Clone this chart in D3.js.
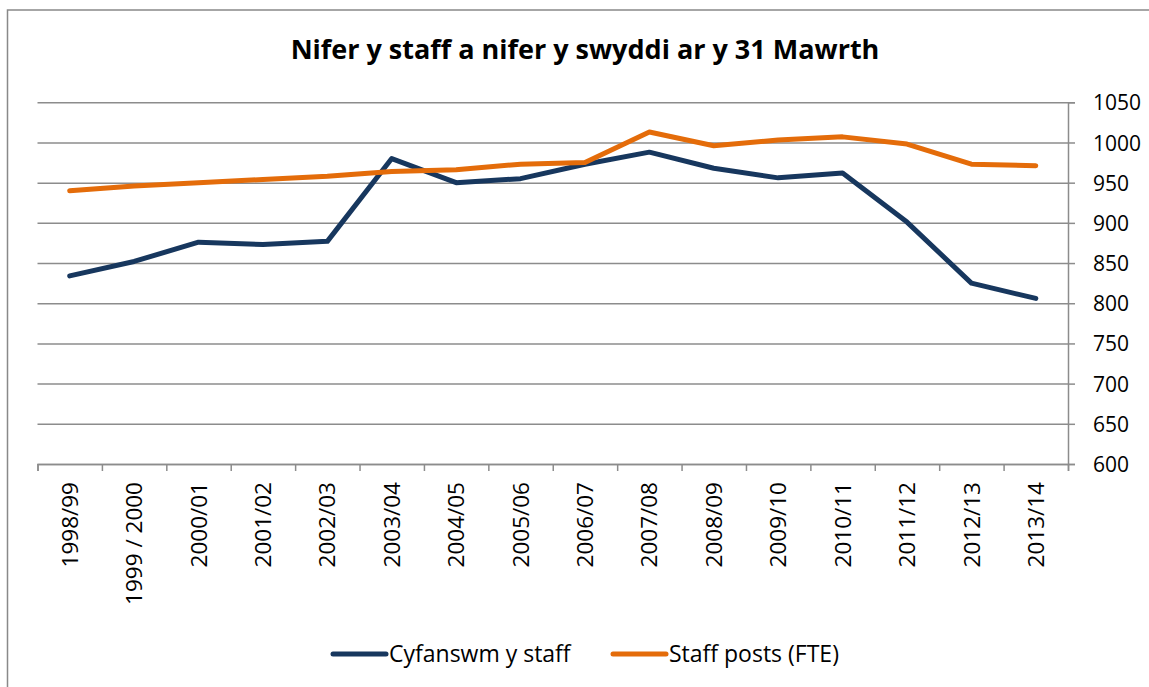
<!DOCTYPE html>
<html>
<head>
<meta charset="utf-8">
<script src="https://cdn.jsdelivr.net/npm/d3@7"></script>
<style>
  body { margin: 0; background: #fff; }
  svg text { font-family: "Open Sans", "Liberation Sans", sans-serif; fill: #000; }
</style>
</head>
<body>
<div id="chart"></div>
<script>
// data
var years = ["1998/99", "1999 / 2000", "2000/01", "2001/02", "2002/03", "2003/04", "2004/05", "2005/06",
             "2006/07", "2007/08", "2008/09", "2009/10", "2010/11", "2011/12", "2012/13", "2013/14"];
var totalStaff = [834, 852, 876, 873, 877, 980, 950, 955, 973, 988, 968, 956, 962, 901, 825, 806];
var staffPosts = [940, 946, 950, 954, 958, 964, 966, 973, 975, 1013, 996, 1003, 1007, 998, 973, 971];
var yTicks = [600, 650, 700, 750, 800, 850, 900, 950, 1000, 1050];
var seriesNames = ["Cyfanswm y staff", "Staff posts (FTE)"];
var seriesColors = ["#17375e", "#e46c0a"];

var width = 1149, height = 687;
var plot = { left: 37.5, right: 1068, top: 102.3, bottom: 464 };

var svg = d3.select("#chart").append("svg")
    .attr("width", width)
    .attr("height", height);

// outer chart border
svg.append("rect")
    .attr("x", 7.5).attr("y", 10)
    .attr("width", 1160).attr("height", 700)
    .attr("fill", "none")
    .attr("stroke", "#898989")
    .attr("stroke-width", 1.5);

svg.append("text")
    .attr("x", 585).attr("y", 59)
    .attr("text-anchor", "middle")
    .style("font-size", "27px")
    .style("font-weight", "bold")
    .text("Nifer y staff a nifer y swyddi ar y 31 Mawrth");

var x = d3.scaleBand().domain(years).range([plot.left, plot.right]);
var xEdge = d3.scaleLinear().domain([0, years.length]).range([plot.left, plot.right]);
var y = d3.scaleLinear().domain([600, 1050]).range([plot.bottom, plot.top]);

// gridlines
svg.append("g")
    .attr("transform", "translate(" + plot.right + ",0)")
    .call(d3.axisLeft(y).tickValues(yTicks).tickSize(plot.right - plot.left).tickFormat(""))
    .call(function(g) { g.select(".domain").remove(); })
    .selectAll("line")
    .attr("stroke", "#8c8c8c")
    .attr("stroke-width", 1.5);

// right value axis
var yAxis = svg.append("g")
    .attr("transform", "translate(" + plot.right + ",0)")
    .call(d3.axisRight(y).tickValues(yTicks).tickSize(7).tickPadding(18).tickFormat(d3.format("d")));
yAxis.select(".domain").attr("stroke", "#8c8c8c").attr("stroke-width", 1.5);
yAxis.selectAll("line").attr("stroke", "#8c8c8c").attr("stroke-width", 1.5);
yAxis.selectAll("text").style("font-size", "21px").attr("dy", "0.36em");

// bottom category axis (ticks between categories)
var xAxis = svg.append("g")
    .attr("transform", "translate(0," + plot.bottom + ")")
    .call(d3.axisBottom(xEdge).tickValues(d3.range(years.length + 1)).tickSize(7).tickFormat(""));
xAxis.select(".domain").attr("stroke", "#8c8c8c").attr("stroke-width", 1.5);
xAxis.selectAll("line").attr("stroke", "#8c8c8c").attr("stroke-width", 1.5);

svg.append("g").selectAll("text")
    .data(years)
    .enter().append("text")
    .attr("transform", function(d) {
      return "translate(" + (x(d) + x.bandwidth() / 2) + "," + (plot.bottom + 18) + ") rotate(-90)";
    })
    .attr("text-anchor", "end")
    .attr("dy", "0.36em")
    .style("font-size", "22.5px")
    .text(function(d) { return d; });

// lines
var line = d3.line()
    .x(function(d, i) { return x(years[i]) + x.bandwidth() / 2; })
    .y(function(d) { return y(d); });

[totalStaff, staffPosts].forEach(function(s, i) {
  svg.append("path")
      .datum(s)
      .attr("fill", "none")
      .attr("stroke", seriesColors[i])
      .attr("stroke-width", 5)
      .attr("stroke-linejoin", "round")
      .attr("stroke-linecap", "round")
      .attr("d", line);
});

// legend
var legendX = [333, 613];
var legend = svg.append("g").selectAll("g")
    .data(seriesNames)
    .enter().append("g")
    .attr("transform", function(d, i) { return "translate(" + legendX[i] + ",654)"; });
legend.append("line")
    .attr("x1", 0).attr("x2", 53)
    .attr("stroke", function(d, i) { return seriesColors[i]; })
    .attr("stroke-width", 5)
    .attr("stroke-linecap", "round");
legend.append("text")
    .attr("x", 56)
    .attr("dy", "0.36em")
    .style("font-size", "23px")
    .text(function(d) { return d; });
</script>
</body>
</html>
